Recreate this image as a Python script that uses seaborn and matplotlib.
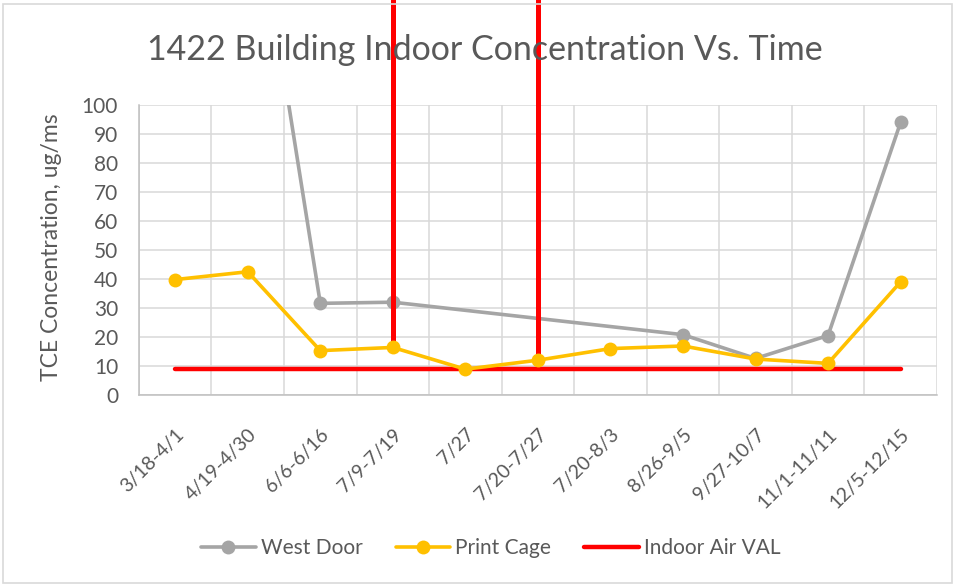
"""1422 Building indoor TCE concentration vs. time (Excel-style line chart)."""

import numpy as np
import pandas as pd
import matplotlib.pyplot as plt
import seaborn as sns
from matplotlib.patches import Rectangle

categories = ["3/18-4/1", "4/19-4/30", "6/6-6/16", "7/9-7/19", "7/27", "7/20-7/27",
              "7/20-8/3", "8/26-9/5", "9/27-10/7", "11/1-11/11", "12/5-12/15"]
west_door = [np.nan, 189, 31.6, 32, np.nan, np.nan, np.nan, 20.8, 12.6, 20.5, 94]
print_cage = [39.8, 42.5, 15.3, 16.4, 8.9, 12, 16, 16.9, 12.4, 10.9, 39]
indoor_air_val = [8.8] * len(categories)
# plus-only error bars on Print Cage (run off the top of the chart)
err_cats = ["7/9-7/19", "7/20-7/27"]
err_top = [200, 200]

GREY = "#A5A5A5"
GOLD = "#FFC000"
RED = "#FF0000"
TEXT = "#595959"

sns.set_theme(style="white")
plt.rcParams["font.family"] = ["Lato", "DejaVu Sans"]

df = pd.DataFrame({"pos": np.arange(len(categories)), "cat": categories,
                   "West Door": west_door, "Print Cage": print_cage,
                   "Indoor Air VAL": indoor_air_val})

fig = plt.figure(figsize=(9.55, 5.85), dpi=100)
ax = fig.add_axes([0.1455, 0.3248, 0.8355, 0.4957])

sns.lineplot(data=df.dropna(subset=["West Door"]), x="pos", y="West Door", ax=ax,
             color=GREY, linewidth=2.6, marker="o", markersize=10,
             markeredgewidth=0, label="West Door", zorder=3)
sns.lineplot(data=df, x="pos", y="Indoor Air VAL", ax=ax, color=RED,
             linewidth=3.2, label="Indoor Air VAL", zorder=2.5)
err_pos = [categories.index(c) for c in err_cats]
err_base = [print_cage[i] for i in err_pos]
ax.vlines(err_pos, err_base, err_top, colors=RED, linewidth=3.6,
          clip_on=False, zorder=4)
sns.lineplot(data=df, x="pos", y="Print Cage", ax=ax, color=GOLD,
             linewidth=2.6, marker="o", markersize=10, markeredgewidth=0,
             label="Print Cage", zorder=5)

ax.set_xlim(-0.5, len(categories) - 0.5)
ax.set_ylim(0, 100)
ax.set_yticks(range(0, 101, 10))
ax.set_xticks(df["pos"])
ax.set_xticklabels(categories, rotation=45, ha="right", rotation_mode="anchor")
ax.set_xticks(np.arange(-0.5, len(categories), 1), minor=True)
ax.grid(False)
ax.grid(axis="y", which="major", color="#D9D9D9", linewidth=1.1)
ax.grid(axis="x", which="minor", color="#D9D9D9", linewidth=1.1)
ax.tick_params(axis="both", which="both", length=0, colors=TEXT)
ax.tick_params(axis="y", labelsize=15, pad=15)
ax.tick_params(axis="x", labelsize=14, pad=22)
for s in ["top", "right"]:
    ax.spines[s].set_visible(False)
for s in ["left", "bottom"]:
    ax.spines[s].set_color("#BFBFBF")
    ax.spines[s].set_linewidth(1.1)
ax.set_xlabel("")
ax.set_ylabel("TCE Concentration, ug/ms", color=TEXT, fontsize=16.5)
ax.yaxis.set_label_coords(-0.097, 0.51)

fig.suptitle("1422 Building Indoor Concentration Vs. Time", x=0.508, y=0.915,
             va="center", color=TEXT, fontsize=24.5)

handles, labels = ax.get_legend_handles_labels()
order = [labels.index(n) for n in ["West Door", "Print Cage", "Indoor Air VAL"]]
ax.legend([handles[i] for i in order], [labels[i] for i in order],
          loc="center", bbox_to_anchor=(0.514, 0.063), bbox_transform=fig.transFigure,
          ncol=3, frameon=False, fontsize=15, labelcolor=TEXT, handlelength=2.6,
          handletextpad=0.25, columnspacing=1.6)

fig.patches.append(Rectangle((0.003, 0.004), 0.994, 0.99, transform=fig.transFigure,
                             fill=False, edgecolor="#D9D9D9", linewidth=1.2))

fig.savefig("out.png", dpi=100)
